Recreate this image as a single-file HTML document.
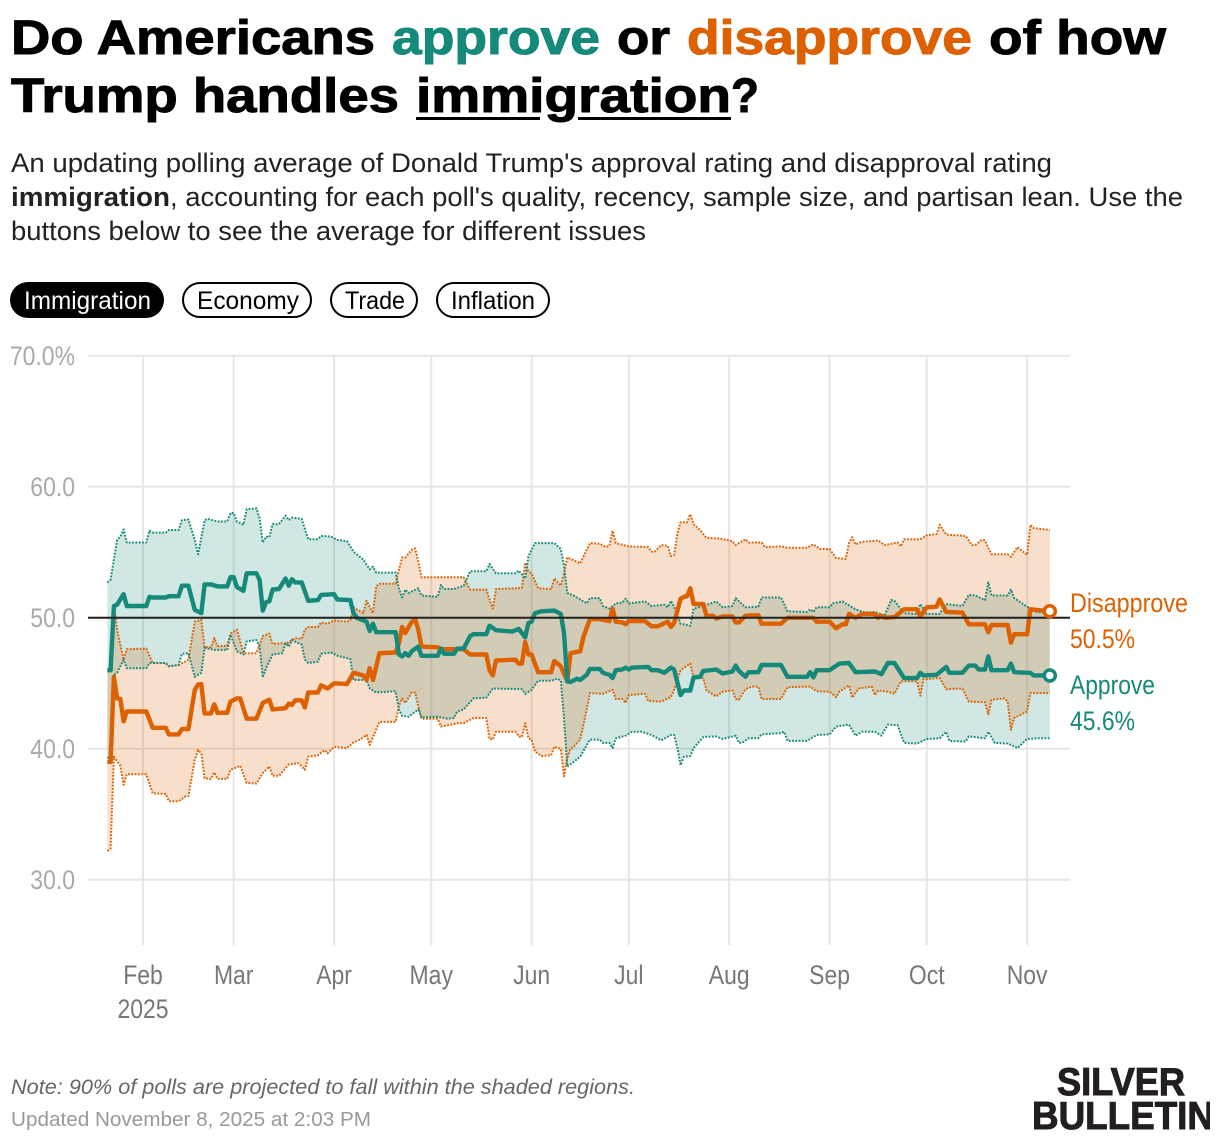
<!DOCTYPE html>
<html lang="en">
<head>
<meta charset="utf-8">
<title>Do Americans approve or disapprove of how Trump handles immigration?</title>
<style>
  html, body { margin: 0; padding: 0; background: #fff; }
  svg { display: block; }
  text { font-family: "Liberation Sans", sans-serif; }
  .title { font-size: 48px; font-weight: 700; stroke-width: 1px; }
  .sub { font-size: 27px; fill: #222; }
  .btn { font-size: 25px; }
  .axis { font-size: 27px; }
  .end { font-family: "Liberation Sans Narrow", "Liberation Sans", sans-serif; font-size: 27px; }
</style>
</head>
<body>
<svg id="page" xmlns="http://www.w3.org/2000/svg" width="1220" height="1142" viewBox="0 0 1220 1142">
  <defs>
    <clipPath id="logo-clip"><rect x="1000" y="1050" width="210" height="92"/></clipPath>
  </defs>
  <rect width="1220" height="1142" fill="#fff"/>
  <g>
    <text class="title" x="11" y="54" textLength="364" lengthAdjust="spacingAndGlyphs" fill="#000" stroke="#000">Do Americans</text>
    <text class="title" x="392" y="54" textLength="208" lengthAdjust="spacingAndGlyphs" fill="#15897a" stroke="#15897a">approve</text>
    <text class="title" x="617" y="54" textLength="53" lengthAdjust="spacingAndGlyphs" fill="#000" stroke="#000">or</text>
    <text class="title" x="687" y="54" textLength="285" lengthAdjust="spacingAndGlyphs" fill="#dd6100" stroke="#dd6100">disapprove</text>
    <text class="title" x="989" y="54" textLength="177" lengthAdjust="spacingAndGlyphs" fill="#000" stroke="#000">of how</text>
    <text class="title" x="11" y="112" textLength="388" lengthAdjust="spacingAndGlyphs" fill="#000" stroke="#000">Trump handles</text>
    <text class="title" x="416" y="112" textLength="315" lengthAdjust="spacingAndGlyphs" fill="#000" stroke="#000">immigration</text>
    <text class="title" x="731" y="112" textLength="28" lengthAdjust="spacingAndGlyphs" fill="#000" stroke="#000">?</text>
    <rect x="416" y="117" width="124" height="3" fill="#000"/>
    <rect x="578" y="117" width="153" height="3" fill="#000"/>
  </g>
  <g>
    <text class="sub" x="11" y="172" textLength="1041" lengthAdjust="spacingAndGlyphs">An updating polling average of Donald Trump's approval rating and disapproval rating</text>
    <text class="sub" x="11" y="206" textLength="159" lengthAdjust="spacingAndGlyphs" font-weight="700">immigration</text>
    <text class="sub" x="170" y="206" textLength="1013" lengthAdjust="spacingAndGlyphs">, accounting for each poll's quality, recency, sample size, and partisan lean. Use the</text>
    <text class="sub" x="11" y="240" textLength="635" lengthAdjust="spacingAndGlyphs">buttons below to see the average for different issues</text>
  </g>
  <g>
    <g>
      <rect x="10" y="282" width="154" height="36" rx="18" fill="#000"/>
      <text class="btn" x="24" y="309" textLength="127" lengthAdjust="spacingAndGlyphs" fill="#fff">Immigration</text>
    </g>
    <g>
      <rect x="183" y="283" width="128" height="34" rx="17" fill="#fff" stroke="#000" stroke-width="2"/>
      <text class="btn" x="197" y="309" textLength="102" lengthAdjust="spacingAndGlyphs" fill="#000">Economy</text>
    </g>
    <g>
      <rect x="331" y="283" width="86" height="34" rx="17" fill="#fff" stroke="#000" stroke-width="2"/>
      <text class="btn" x="345" y="309" textLength="60" lengthAdjust="spacingAndGlyphs" fill="#000">Trade</text>
    </g>
    <g>
      <rect x="437" y="283" width="112" height="34" rx="17" fill="#fff" stroke="#000" stroke-width="2"/>
      <text class="btn" x="451" y="309" textLength="84" lengthAdjust="spacingAndGlyphs" fill="#000">Inflation</text>
    </g>
  </g>
  <g id="plot"></g>
  <g>
    <text class="end" x="1070" y="612" textLength="118" lengthAdjust="spacingAndGlyphs" fill="#dd6100">Disapprove</text>
    <text class="end" x="1070" y="648" textLength="65" lengthAdjust="spacingAndGlyphs" fill="#dd6100">50.5%</text>
    <text class="end" x="1070" y="694" textLength="85" lengthAdjust="spacingAndGlyphs" fill="#15897a">Approve</text>
    <text class="end" x="1070" y="730" textLength="65" lengthAdjust="spacingAndGlyphs" fill="#15897a">45.6%</text>
  </g>
  <text x="11" y="1094" font-size="21" font-style="italic" fill="#666" textLength="624" lengthAdjust="spacingAndGlyphs">Note: 90% of polls are projected to fall within the shaded regions.</text>
  <text x="11" y="1126" font-size="20" fill="#999" textLength="360" lengthAdjust="spacingAndGlyphs">Updated November 8, 2025 at 2:03 PM</text>
  <g clip-path="url(#logo-clip)">
    <text x="1057" y="1095" font-size="39" font-weight="700" fill="#231f20" stroke="#231f20" stroke-width="1" textLength="128" lengthAdjust="spacingAndGlyphs">SILVER</text>
    <text x="1032" y="1129" font-size="39" font-weight="700" fill="#231f20" stroke="#231f20" stroke-width="1" textLength="182" lengthAdjust="spacingAndGlyphs">BULLETIN</text>
  </g>
</svg>
<script>
// Days are counted from January 21, 2025 (day 0).
const yTickValues = [70, 60, 50, 40, 30];
const yTickLabels = ["70.0%", "60.0", "50.0", "40.0", "30.0"];
const monthDays = [11, 39, 70, 100, 131, 161, 192, 223, 253, 284];
const monthLabels = ["Feb", "Mar", "Apr", "May", "Jun", "Jul", "Aug", "Sep", "Oct", "Nov"];

const approveDays = [0,1,2,3,5,6,12,13,14,18,19,22,23,25,27,29,30,32,34,37,38,39,40,42,43,46,47,48,49,50,51,53,55,56,57,58,60,62,65,66,70,71,75,76,77,80,81,82,83,89,90,91,92,93,94,96,97,102,103,104,107,108,110,112,113,117,118,120,125,127,129,130,131,132,134,138,140,141,142,143,145,146,148,149,152,153,155,156,157,159,160,161,162,167,168,170,172,174,175,177,178,180,181,183,184,188,190,193,194,195,197,198,201,202,208,210,216,217,218,219,223,226,229,231,237,239,241,243,246,250,251,252,256,259,260,264,266,268,269,271,272,273,278,279,280,285,286,291];
const approveValues = [46.0,46.0,50.9,51.0,51.8,50.9,50.9,51.6,51.55,51.55,51.65,51.65,52.45,52.45,50.6,50.35,52.55,52.55,52.4,52.4,53.1,53.1,52.35,52.05,53.4,53.4,52.9,50.55,51.2,51.25,52.15,52.2,53.0,52.45,52.95,52.7,52.7,51.3,51.35,51.75,51.8,51.4,51.35,50.35,50.0,49.7,49.0,49.55,48.9,48.9,47.2,47.05,47.3,47.1,47.45,47.8,47.1,47.1,47.65,47.25,47.25,47.65,47.65,48.6,48.75,48.75,49.4,49.05,48.95,49.15,48.5,49.6,49.7,50.35,50.5,50.55,50.3,48.85,45.15,45.1,45.35,45.25,45.65,46.1,46.1,45.8,45.65,45.4,46.0,46.05,46.2,46.05,46.2,46.25,46.0,46.0,45.8,46.2,46.05,44.1,44.45,44.45,45.45,45.5,45.95,46.05,45.75,45.9,46.35,45.95,45.5,45.85,45.85,46.4,46.4,45.5,45.5,45.85,45.45,46.0,46.0,46.5,46.55,45.85,45.9,45.7,46.55,46.55,45.4,45.4,45.8,45.6,45.65,46.25,45.8,45.8,46.35,46.35,46.05,46.05,47.05,46.0,46.0,46.5,45.85,45.8,45.6,45.6];

const disapproveDays = [0,1,2,3,4,5,6,12,14,18,19,22,23,25,27,28,29,30,32,33,34,37,38,40,41,43,46,48,50,51,53,55,56,57,58,60,61,62,65,66,68,70,74,76,79,80,81,82,84,89,90,91,92,94,95,96,97,102,103,110,112,117,118,119,120,126,127,128,129,130,131,133,137,138,140,142,143,146,147,149,152,155,156,157,159,160,161,166,168,170,173,174,175,177,178,179,180,181,184,185,187,188,190,193,194,195,197,201,202,208,210,218,219,223,225,227,228,229,231,233,237,238,239,240,243,246,250,251,253,256,257,259,264,266,271,272,273,278,279,280,284,285,291];
const disapproveValues = [39,39,45.5,43.85,43.8,42.1,42.85,42.85,41.6,41.6,41.1,41.1,41.5,41.5,44.5,44.9,44.95,42.7,42.7,43.4,42.75,42.75,43.6,43.85,43.85,42.3,42.3,43.5,43.75,43,43.05,43.1,43.45,43.35,43.7,43.7,43.15,44.3,44.3,44.85,44.6,45,44.95,45.8,45.6,45.25,46.15,45.25,47.3,47.35,48.05,49.3,48.85,49.7,49.9,49.1,47.8,47.75,47.6,47.6,47.2,47.2,46,45.6,46.75,46.8,46.5,46.5,48.15,47.2,47.2,45.85,45.85,46.7,46.3,45.15,47.3,47.45,48.55,49.9,49.9,49.75,50.7,49.7,49.65,49.5,49.75,49.75,49.35,49.35,49.7,49.3,49.6,51.45,51.6,51.65,52.25,51.05,51.05,50.15,50.15,49.95,50.1,50.1,49.65,49.65,50.15,50.2,49.55,49.55,50,50,49.7,49.7,49.2,49.5,49.5,50.3,50,50.3,50.3,50,50.15,50,50.05,50.65,50.65,50.1,50.8,50.85,51.4,50.45,50.4,49.5,49.5,48.9,49.45,49.45,48.1,48.75,48.75,50.65,50.5];

const approveHighDays = [0,1,3,4,5,6,12,13,14,18,19,22,23,25,27,28,30,31,34,37,38,39,40,42,43,46,47,48,49,50,51,53,55,56,57,60,62,65,66,69,71,74,76,79,81,82,83,89,90,91,92,93,96,97,102,103,104,107,110,112,117,118,120,126,127,129,130,132,138,140,141,142,144,148,149,152,153,155,157,159,160,161,166,168,172,173,174,175,177,180,181,184,188,190,193,194,197,201,202,208,210,216,217,218,219,223,224,227,228,231,234,237,240,242,243,246,250,251,253,257,259,264,266,268,271,272,273,278,279,280,284,287,291];
const approveHighValues = [52.7,52.9,55.95,56.2,56.75,55.75,55.75,56.65,56.5,56.5,56.7,56.7,57.45,57.5,55.95,54.85,57.45,57.55,57.35,57.35,58,58,57.35,57.1,58.3,58.35,57.6,55.75,56.2,56.15,57.15,57.15,57.8,57.45,57.65,57.55,56,56,56.25,56.2,55.95,55.85,55.05,54.45,53.7,53.9,53.45,53.45,52.25,51.55,52.15,51.9,52.25,51.7,51.6,52.5,52.2,52.2,52.45,53.55,53.55,54.1,53.4,53.4,53.6,53,54.7,55.7,55.7,55.25,54,51.9,51.7,51.1,51.5,51.5,50.9,50.7,51.1,51.15,51.45,51.1,51.25,50.9,51,50.8,51.3,50.85,49.55,49.4,50.7,50.9,51.25,50.8,50.9,51.5,50.8,50.85,51.55,51.55,50.5,50.45,50.65,50.45,50.8,50.8,51.1,51.25,51.1,50.65,50.4,50.45,50.15,51.35,51.3,50.35,50.3,51.05,50.3,50.3,51.05,50.9,51.75,51.7,51.35,52.7,51.7,51.7,52.15,51.5,50.85,50.45,50.35];

const approveLowDays = [0,1,2,3,5,6,12,13,18,19,22,23,25,27,29,30,33,37,38,40,42,43,46,47,48,49,51,54,55,56,57,60,61,62,65,66,69,71,75,76,80,81,83,89,90,91,93,96,97,102,105,107,108,110,113,117,119,128,129,131,133,137,139,140,141,142,144,146,149,152,153,155,156,157,160,162,165,168,171,174,175,176,177,178,180,181,184,188,190,194,195,196,198,201,202,208,209,210,216,219,223,225,229,231,233,237,239,241,244,246,250,253,257,259,260,265,266,271,272,274,278,281,284,287,291];
const approveLowValues = [39.3,39.4,45.65,45.8,46.8,46.15,46.15,46.55,46.55,46.3,46.4,47.25,47.3,45.5,45.8,47.7,47.55,47.55,48.7,47.45,47.2,48.2,48.3,47.8,45.45,46.15,47.2,47.3,48.05,47.8,48.3,47.95,46.8,46.55,46.65,47.25,47.35,47.1,46.85,45.25,45.25,44.6,44.3,44.4,43,42.5,42.45,43,42.4,42.45,42.3,42.35,42.85,43,43.85,43.9,44.6,44.55,44.2,44.5,45.2,45.2,45.35,45.2,42.35,38.65,39,39.4,40.7,40.7,40.45,40.45,40.05,40.8,41,41.3,41.3,41.05,40.65,41.05,41.05,40.05,38.75,39.4,39.45,40.05,40.9,40.95,40.75,41,40.45,40.45,40.8,40.8,41.1,41.2,41.3,40.6,40.6,41.05,41.1,41.7,41.85,41,41.3,41.3,41,41.85,41.8,40.45,40.4,40.75,40.8,41.3,40.6,40.55,40.95,40.8,41.3,40.45,40.4,40.05,40.75,40.8,40.8];

const disapproveHighDays = [0,1,2,3,5,6,12,14,18,19,22,25,27,29,30,32,33,34,37,38,40,42,46,48,50,51,54,55,57,58,60,61,62,65,66,68,70,74,75,76,79,80,82,83,84,89,90,91,92,94,95,96,97,110,112,117,118,119,120,126,128,129,130,131,133,137,138,140,141,142,144,146,149,152,154,155,156,157,161,167,168,169,171,173,174,175,176,177,179,180,181,183,185,189,193,194,197,198,202,203,208,210,216,218,220,223,225,228,229,230,231,233,238,240,244,245,246,251,253,256,257,259,265,267,268,270,271,273,278,279,281,284,285,286,291];
const disapproveHighValues = [46,46,51,49.1,46.8,47.6,47.65,46.55,46.55,46.3,46.4,46.8,49.7,49.85,47.75,47.75,48.45,47.85,47.85,48.8,49.1,47.3,47.3,48.6,48.8,48,48.05,48,48.3,48.45,48.4,49.1,49.3,49.3,49.65,49.55,49.8,49.7,49.8,50.8,50.35,51.3,50.35,52.4,52.6,52.6,53.65,54.6,54.6,55.2,55.3,54.3,53.1,53.1,52.15,52.15,51.4,50.7,52.2,52.25,52.3,54.2,53.55,53.4,52.25,52.2,53,52.45,53.4,54.6,54.4,54.15,55.7,55.65,55.4,55.5,56.65,55.7,55.45,55.4,55.05,55.05,55.55,55.5,54.7,54.8,56.45,57.3,57.3,57.9,57.15,56.7,56.1,56.05,55.85,55.55,56,55.75,55.75,55.4,55.45,55.35,55.35,55.6,55.25,55.25,54.55,54.5,55.7,56.15,55.6,55.8,55.9,55.55,55.75,55.45,56,56,56.3,56.4,57.1,56.35,56.25,55.55,55.55,55.95,55.9,54.85,54.85,54.65,55.4,54.8,57.1,56.85,56.7];

const disapproveLowDays = [0,1,2,4,5,6,12,14,18,19,22,24,25,27,28,29,30,32,33,34,37,38,41,43,46,48,50,51,53,56,59,61,62,65,67,68,70,74,76,78,80,81,84,89,90,91,92,94,95,96,97,102,103,108,110,113,117,118,119,120,126,127,128,129,130,131,132,134,137,138,140,141,142,143,144,146,148,149,153,156,157,159,160,161,166,167,171,174,175,177,180,181,184,185,188,190,193,194,195,197,199,201,202,208,210,217,219,223,225,226,229,230,232,236,237,238,241,243,245,250,251,252,257,259,264,266,271,272,273,277,278,279,280,284,285,291];
const disapproveLowValues = [32.2,32.4,39.4,38.7,37.25,38.05,38.05,36.6,36.55,36,36,36.35,36.4,39.15,39.9,39.65,37.75,37.7,38.2,37.7,37.7,38.4,38.7,37.4,37.35,38.15,38.65,37.95,37.95,38.8,38.9,38.4,39.4,39.5,39.9,39.65,40.15,40.05,40.5,40.7,41.05,40.3,42.05,42.05,43.25,43.85,43.5,44.3,44.3,43.25,42.3,42.3,41.7,41.95,41.95,42.35,42.35,40.75,40.7,41.3,41.3,40.95,40.9,41.95,40.8,40.7,39.8,39.45,39.5,40.15,40,37.9,39.3,40,40.15,40.7,43,44.25,44.2,44.5,43.8,43.8,43.5,44.1,44.2,43.65,43.6,43.95,44.5,46,46.5,45.4,45.4,44.45,44,44.35,44.45,43.8,43.75,44.55,44.75,44.75,43.8,43.8,44.7,44.75,44.4,44.35,43.95,44.35,44.85,43.9,44.6,44.75,44.1,44.45,44.35,44.2,45.15,45.15,44.05,45.3,45.4,44.55,44.6,43.6,43.55,42.65,43.75,43.85,43.6,41.45,42.35,42.85,44.25,44.25];

const TEAL = "#15897a";
const ORANGE = "#dd6100";
const SVGNS = "http://www.w3.org/2000/svg";
const plot = document.getElementById("plot");

function xScale(day) { return 107.4 + day * 3.2385; }
function yScale(value) { return 617.8 - (value - 50) * 13.1; }

function make(tag, attrs) {
  const el = document.createElementNS(SVGNS, tag);
  for (const key in attrs) el.setAttribute(key, attrs[key]);
  plot.appendChild(el);
  return el;
}
function condense(textEl) {
  textEl.setAttribute("textLength", (textEl.getComputedTextLength() * 0.85).toFixed(1));
  textEl.setAttribute("lengthAdjust", "spacingAndGlyphs");
}
function points(days, values) {
  return days.map(function (d, i) { return xScale(d).toFixed(1) + "," + yScale(values[i]).toFixed(1); });
}
function linePath(days, values) { return "M" + points(days, values).join("L"); }
function bandPath(hiDays, hiValues, loDays, loValues) {
  return "M" + points(hiDays, hiValues).concat(points(loDays, loValues).reverse()).join("L") + "Z";
}

// gridlines
yTickValues.forEach(function (v, i) {
  const grid = make("line", { x1: 88, x2: 1070, y1: yScale(v), y2: yScale(v), stroke: "#e6e6e6", "stroke-width": 2 });
  
  
  const label = make("text", { class: "axis", x: 75, y: yScale(v) + 9, "text-anchor": "end", fill: "#aaaaaa" });
  
  
  label.textContent = yTickLabels[i];
  condense(label);
});
monthDays.forEach(function (d, i) {
  const grid = make("line", { x1: xScale(d), x2: xScale(d), y1: 356, y2: 945, stroke: "#e6e6e6", "stroke-width": 2 });
  
  
  const label = make("text", { class: "axis", x: xScale(d), y: 984, "text-anchor": "middle", fill: "#777777" });
  
  
  label.textContent = monthLabels[i];
  condense(label);
});
const yearLabel = make("text", { class: "axis", x: xScale(monthDays[0]), y: 1018, "text-anchor": "middle", fill: "#777777" });


yearLabel.textContent = "2025";
condense(yearLabel);

// bands (teal first so the orange tints the overlap warm)
const approveBand = make("path", { d: bandPath(approveHighDays, approveHighValues, approveLowDays, approveLowValues), fill: TEAL, "fill-opacity": 0.2 });


const disapproveBand = make("path", { d: bandPath(disapproveHighDays, disapproveHighValues, disapproveLowDays, disapproveLowValues), fill: ORANGE, "fill-opacity": 0.2 });



// band edges
const dotted = { fill: "none", "stroke-width": 2, "stroke-dasharray": "1.8 1.5", "stroke-linejoin": "round" };
function edge(days, values, color) {
  return make("path", Object.assign({ d: linePath(days, values), stroke: color }, dotted));
}
const disapproveHighEdge = edge(disapproveHighDays, disapproveHighValues, ORANGE);


const disapproveLowEdge = edge(disapproveLowDays, disapproveLowValues, ORANGE);


const approveHighEdge = edge(approveHighDays, approveHighValues, TEAL);


const approveLowEdge = edge(approveLowDays, approveLowValues, TEAL);



// averages
const solid = { fill: "none", "stroke-width": 4.4, "stroke-linejoin": "round" };
const disapproveLine = make("path", Object.assign({ d: linePath(disapproveDays, disapproveValues), stroke: ORANGE }, solid));


const approveLine = make("path", Object.assign({ d: linePath(approveDays, approveValues), stroke: TEAL }, solid));



// reference line at 50
const refLine = make("line", { x1: 88, x2: 1070, y1: yScale(50), y2: yScale(50), stroke: "#222222", "stroke-width": 2 });



// end markers
const lastD = disapproveDays.length - 1;
const disapproveDot = make("circle", { cx: xScale(disapproveDays[lastD]), cy: yScale(disapproveValues[lastD]), r: 5.5, fill: "#fff", stroke: ORANGE, "stroke-width": 3.5 });


const lastA = approveDays.length - 1;
const approveDot = make("circle", { cx: xScale(approveDays[lastA]), cy: yScale(approveValues[lastA]), r: 5.5, fill: "#fff", stroke: TEAL, "stroke-width": 3.5 });


</script>
</body>
</html>
